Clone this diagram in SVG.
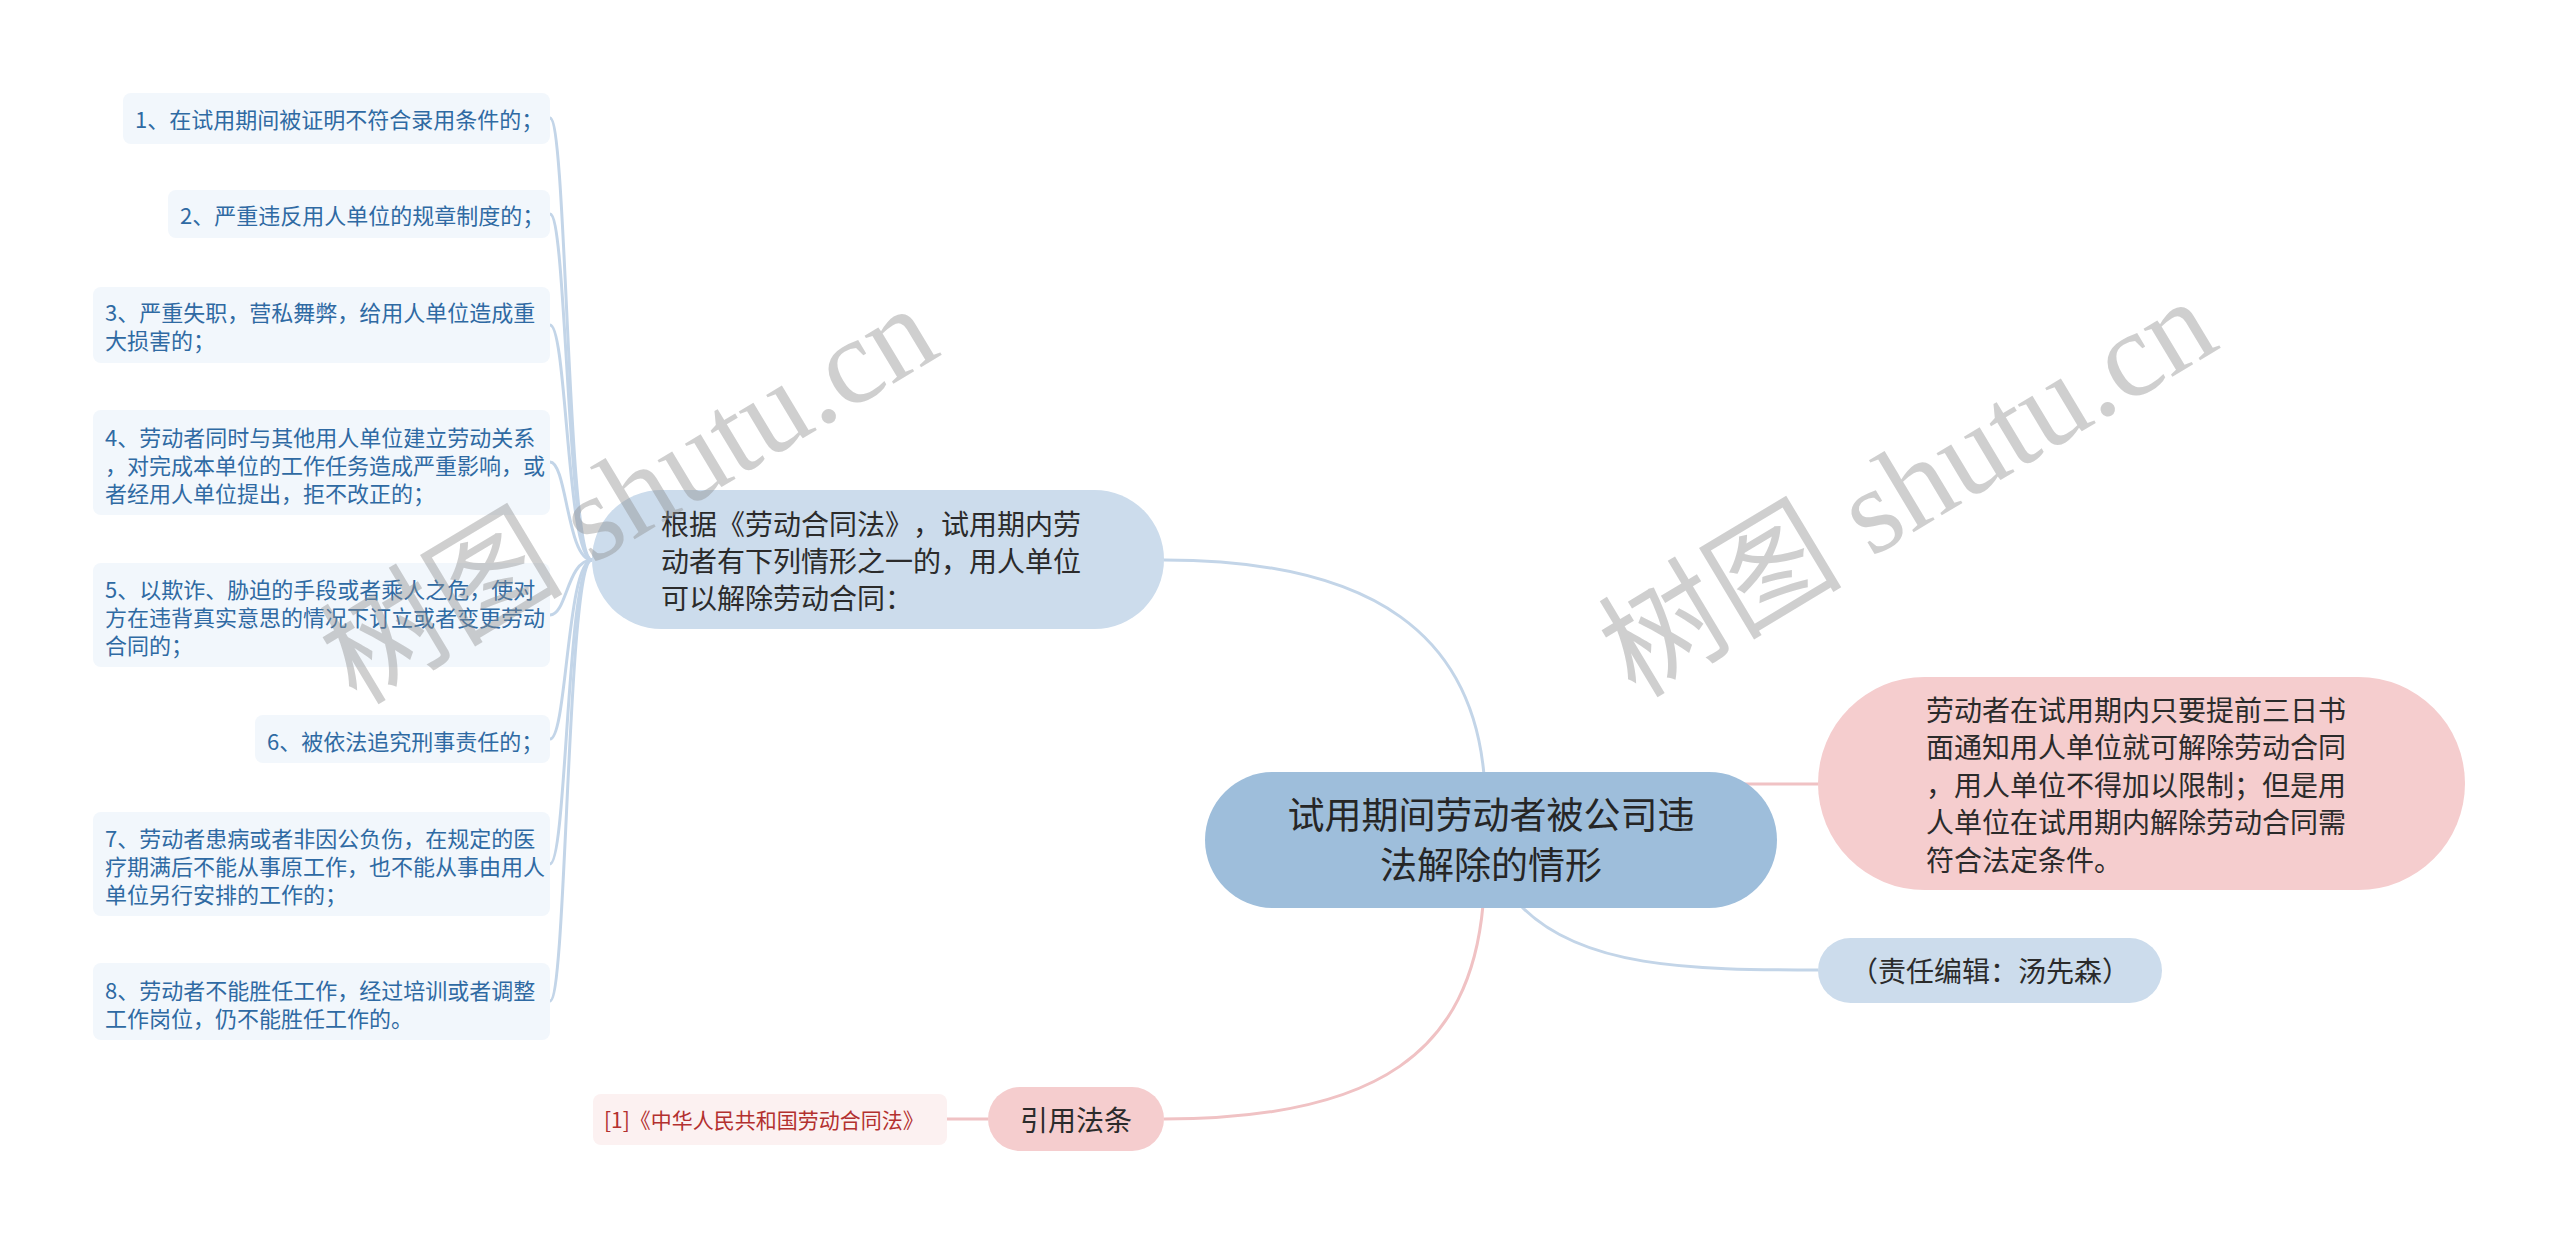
<svg xmlns="http://www.w3.org/2000/svg" width="2560" height="1246" viewBox="0 0 2560 1246">
<defs>
<style>
.cjk{font-family:"Noto Sans CJK SC","Noto Sans",sans-serif;dominant-baseline:central;text-spacing-trim:space-all;font-feature-settings:"halt" 0,"chws" 0}
.leaf rect{fill:#f2f7fc}
.leaf text{font-size:22px;fill:#2f6aa3}
.main text{font-size:28px;fill:#2b2b2b}
.blue{fill:#ccdcec}
.pink{fill:#f5cdce}
.lb{fill:none;stroke:#c3d5e8;stroke-width:3}
.lp{fill:none;stroke:#f0c2c4;stroke-width:3}
.wm{font-family:"Liberation Serif","Noto Sans CJK SC",serif;font-size:122px;fill:#8c8c8c;fill-opacity:0.42}
</style>
</defs>
<rect width="2560" height="1246" fill="#ffffff"/>

<g id="connectors">
<path class="lb" d="M592 560 C567 560 567 118 550 118"/>
<path class="lb" d="M592 560 C567 560 567 214 550 214"/>
<path class="lb" d="M592 560 C567 560 567 325 550 325"/>
<path class="lb" d="M592 560 C567 560 567 462 550 462"/>
<path class="lb" d="M592 560 C567 560 567 615 550 615"/>
<path class="lb" d="M592 560 C567 560 567 739 550 739"/>
<path class="lb" d="M592 560 C567 560 567 864 550 864"/>
<path class="lb" d="M592 560 C567 560 567 1001 550 1001"/>
<path class="lb" d="M1164 560 C1380 560 1472 640 1484 775"/>
<path class="lp" d="M1700 784 L1818 784"/>
<path class="lb" d="M1520 905 C1580 968 1690 970 1818 970"/>
<path class="lp" d="M1483 905 C1470 1050 1380 1119 1164 1119"/>
<path class="lp" d="M947 1119 L988 1119"/>
</g>

<g id="n-center" class="main">
<rect x="1205" y="772" width="572" height="136" rx="68" fill="#9ebedb"/>
<text class="cjk" x="1491" y="813" text-anchor="middle" style="font-size:37px;fill:#262626">试用期间劳动者被公司违</text>
<text class="cjk" x="1491" y="863" text-anchor="middle" style="font-size:37px;fill:#262626">法解除的情形</text>
</g>

<g id="n-main-left" class="main">
<rect class="blue" x="592" y="490" width="572" height="139" rx="69.5"/>
<text class="cjk" x="661" y="523">根据《劳动合同法》，试用期内劳</text>
<text class="cjk" x="661" y="560">动者有下列情形之一的，用人单位</text>
<text class="cjk" x="661" y="597">可以解除劳动合同：</text>
</g>

<g id="n-right-pink" class="main">
<rect class="pink" x="1818" y="677" width="647" height="213" rx="106.5"/>
<text class="cjk" x="1926" y="709">劳动者在试用期内只要提前三日书</text>
<text class="cjk" x="1926" y="746">面通知用人单位就可解除劳动合同</text>
<text class="cjk" x="1926" y="784">，用人单位不得加以限制；但是用</text>
<text class="cjk" x="1926" y="821">人单位在试用期内解除劳动合同需</text>
<text class="cjk" x="1926" y="859">符合法定条件。</text>
</g>

<g id="n-editor" class="main">
<rect class="blue" x="1818" y="938" width="344" height="65" rx="32.5"/>
<text class="cjk" x="1990" y="970" text-anchor="middle">（责任编辑：汤先森）</text>
</g>

<g id="n-cite" class="main">
<rect class="pink" x="988" y="1087" width="176" height="64" rx="32"/>
<text class="cjk" x="1076" y="1119" text-anchor="middle">引用法条</text>
</g>

<g id="n-cite-ref">
<rect x="593" y="1094" width="354" height="51" rx="8" fill="#fcf1f1"/>
<text class="cjk" x="604" y="1119" style="font-size:21px;fill:#b3302f">[1]《中华人民共和国劳动合同法》</text>
</g>

<g id="leaf-1" class="leaf">
<rect x="123" y="93" width="427" height="51" rx="8"/>
<text class="cjk" x="135" y="118">1、在试用期间被证明不符合录用条件的；</text>
</g>
<g id="leaf-2" class="leaf">
<rect x="168" y="190" width="382" height="48" rx="8"/>
<text class="cjk" x="180" y="214">2、严重违反用人单位的规章制度的；</text>
</g>
<g id="leaf-3" class="leaf">
<rect x="93" y="287" width="457" height="76" rx="8"/>
<text class="cjk" x="105" y="311">3、严重失职，营私舞弊，给用人单位造成重</text>
<text class="cjk" x="105" y="339">大损害的；</text>
</g>
<g id="leaf-4" class="leaf">
<rect x="93" y="410" width="457" height="105" rx="8"/>
<text class="cjk" x="105" y="436">4、劳动者同时与其他用人单位建立劳动关系</text>
<text class="cjk" x="105" y="464">，对完成本单位的工作任务造成严重影响，或</text>
<text class="cjk" x="105" y="492">者经用人单位提出，拒不改正的；</text>
</g>
<g id="leaf-5" class="leaf">
<rect x="93" y="563" width="457" height="104" rx="8"/>
<text class="cjk" x="105" y="588">5、以欺诈、胁迫的手段或者乘人之危，使对</text>
<text class="cjk" x="105" y="616">方在违背真实意思的情况下订立或者变更劳动</text>
<text class="cjk" x="105" y="644">合同的；</text>
</g>
<g id="leaf-6" class="leaf">
<rect x="255" y="715" width="295" height="48" rx="8"/>
<text class="cjk" x="267" y="740">6、被依法追究刑事责任的；</text>
</g>
<g id="leaf-7" class="leaf">
<rect x="93" y="812" width="457" height="104" rx="8"/>
<text class="cjk" x="105" y="837">7、劳动者患病或者非因公负伤，在规定的医</text>
<text class="cjk" x="105" y="865">疗期满后不能从事原工作，也不能从事由用人</text>
<text class="cjk" x="105" y="893">单位另行安排的工作的；</text>
</g>
<g id="leaf-8" class="leaf">
<rect x="93" y="963" width="457" height="77" rx="8"/>
<text class="cjk" x="105" y="989">8、劳动者不能胜任工作，经过培训或者调整</text>
<text class="cjk" x="105" y="1017">工作岗位，仍不能胜任工作的。</text>
</g>

<g id="watermarks">
<text class="wm" x="650" y="530" text-anchor="middle" transform="rotate(-31 650 530)">树图 shutu.cn</text>
<text class="wm" x="1929" y="523" text-anchor="middle" transform="rotate(-31 1929 523)">树图 shutu.cn</text>
</g>
</svg>
